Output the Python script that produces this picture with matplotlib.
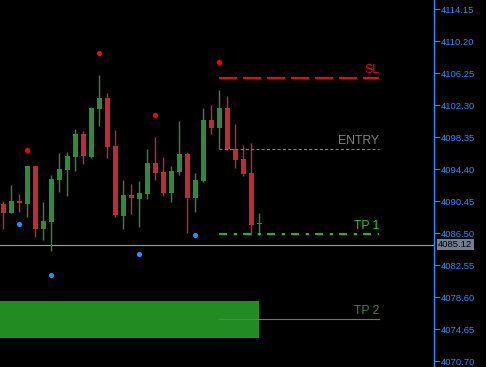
import matplotlib
matplotlib.use("Agg")
import matplotlib.pyplot as plt
import numpy as np

plt.rcParams['font.family'] = ['Liberation Sans', 'DejaVu Sans']
plt.rcParams['lines.scale_dashes'] = False

# OHLC data (33 bars)
opens  = [4090.12, 4089.04, 4090.45, 4090.15, 4094.81, 4086.99, 4087.93, 4093.12, 4094.35, 4095.96,
          4098.76, 4095.96, 4101.88, 4103.20, 4097.28, 4088.67, 4091.23, 4090.77, 4091.39, 4095.18,
          4094.07, 4091.51, 4094.10, 4096.29, 4090.89, 4092.99, 4100.49, 4099.54, 4101.97, 4096.91,
          4095.67, 4093.94, 4087.69]
highs  = [4090.45, 4092.50, 4091.35, 4094.81, 4094.81, 4090.36, 4093.70, 4096.45, 4096.54, 4099.38,
          4099.17, 4102.09, 4106.04, 4103.82, 4099.25, 4093.08, 4092.59, 4092.96, 4096.91, 4098.39,
          4095.92, 4094.81, 4100.36, 4096.54, 4093.94, 4101.97, 4102.34, 4104.19, 4103.45, 4099.99,
          4097.40, 4097.65, 4089.01]
lows   = [4086.99, 4089.04, 4089.17, 4088.55, 4086.08, 4085.67, 4084.35, 4091.64, 4091.14, 4094.23,
          4095.09, 4095.83, 4099.78, 4095.83, 4088.55, 4087.07, 4088.92, 4087.32, 4090.77, 4093.12,
          4091.14, 4090.40, 4093.73, 4086.57, 4089.17, 4092.87, 4098.79, 4096.91, 4096.82, 4094.60,
          4093.61, 4086.33, 4086.35]
closes = [4089.04, 4090.45, 4090.28, 4094.81, 4086.99, 4088.02, 4093.20, 4094.44, 4096.04, 4098.76,
          4096.08, 4101.97, 4103.20, 4097.19, 4088.80, 4091.23, 4090.89, 4091.48, 4095.18, 4093.98,
          4091.51, 4094.19, 4096.29, 4090.89, 4093.08, 4100.49, 4099.54, 4101.97, 4096.94, 4095.59,
          4093.86, 4087.56, 4087.75]

# fractal markers
up_idx = [3, 12, 19, 27]
up_val = [4096.75, 4108.72, 4101.07, 4107.61]
dn_idx = [2, 6, 17, 24]
dn_val = [4087.61, 4081.35, 4083.91, 4086.25]

# trade levels
sl_price = 4105.63
entry_price = 4096.87
tp1_price = 4086.38
tp2_price = 4075.88
zone_low, zone_high = 4073.61, 4078.14
current_price = 4085.12
level_start, level_end = 27, 47
zone_end = 32

yticks = [4114.15, 4110.20, 4106.25, 4102.30, 4098.35, 4094.40, 4090.45,
          4086.50, 4082.55, 4078.60, 4074.65, 4070.70]
ytick_labels = ['4114.15', '4110.20', '4106.25', '4102.30', '4098.35', '4094.40', '4090.45',
                '4086.50', '4082.55', '4078.60', '4074.65', '4070.70']

W, H = 486, 367
fig = plt.figure(figsize=(W / 100, H / 100), dpi=100, facecolor='black')
ax = fig.add_axes([0, 0, 434 / W, 1])
ax.set_facecolor('black')

GREEN = '#2e8b3e'
RED = '#c0283c'

x = np.arange(len(opens))
# zone rectangle
ax.fill_between([-1, zone_end], zone_low, zone_high, color='#228b22', zorder=1, lw=0)

for i in x:
    o, h, l, c = opens[i], highs[i], lows[i], closes[i]
    col = GREEN if c >= o else RED
    ax.vlines(i, l, h, color=col, lw=1.0, zorder=3)
    bottom = min(o, c)
    height = max(abs(c - o), 0.12)
    ax.bar(i, height, bottom=bottom, width=0.62, color=col, lw=0, zorder=4)

ax.scatter(up_idx, up_val, s=14, color='#ff0000', zorder=5, lw=0)
ax.scatter(dn_idx, dn_val, s=14, color='#1e90ff', zorder=5, lw=0)

# current price line
ax.axhline(current_price, color='#a0a0a0', lw=0.8, zorder=2)

# levels
ax.plot([level_start, level_end], [sl_price] * 2, color='#ff0000', lw=1.5,
        dashes=(12.96, 4.32), zorder=6)
ax.plot([level_start, level_end], [entry_price] * 2, color='#808080', lw=0.8,
        dashes=(2.2, 1.6), zorder=6)
ax.plot([level_start, level_end], [tp1_price] * 2, color='#22cc22', lw=1.3,
        dashes=(5.76, 4.8, 2.4, 4.32), zorder=6)
ax.plot([level_start, level_end], [tp2_price] * 2, color='#3c8a78', lw=0.8, zorder=6)

def label(txt, y, col):
    ax.annotate(txt, xy=(level_end, y), xytext=(0, 1.5), textcoords='offset points',
                ha='right', va='bottom', color=col, fontsize=8.8, zorder=7)

label('SL', sl_price, '#ff0000')
label('ENTRY', entry_price, '#808080')
label('TP 1', tp1_price, '#22cc22')
label('TP 2', tp2_price, '#2e8b57')

ax.set_xlim(-0.4125, 53.84)
ax.set_ylim(4070.0, 4115.3)

for s in ['left', 'top', 'bottom']:
    ax.spines[s].set_visible(False)
ax.spines['right'].set_color('#1e90ff')
ax.spines['right'].set_linewidth(1.0)
ax.set_xticks([])
ax.yaxis.tick_right()
ax.set_yticks(yticks)
ax.set_yticklabels(ytick_labels)
ax.tick_params(axis='y', colors='#1e90ff', length=4, width=0.8, pad=1,
               labelsize=6.8, labelcolor='#1e90ff')

ax.annotate(f'{current_price:.2f}', xy=(1, current_price), xycoords=('axes fraction', 'data'),
            xytext=(3, 0), textcoords='offset points', ha='left', va='center',
            fontsize=6.8, color='black',
            bbox=dict(boxstyle='square,pad=0.15', fc='#708090', ec='none'),
            annotation_clip=False, zorder=8)

fig.savefig('out.png', dpi=100, facecolor='black')
